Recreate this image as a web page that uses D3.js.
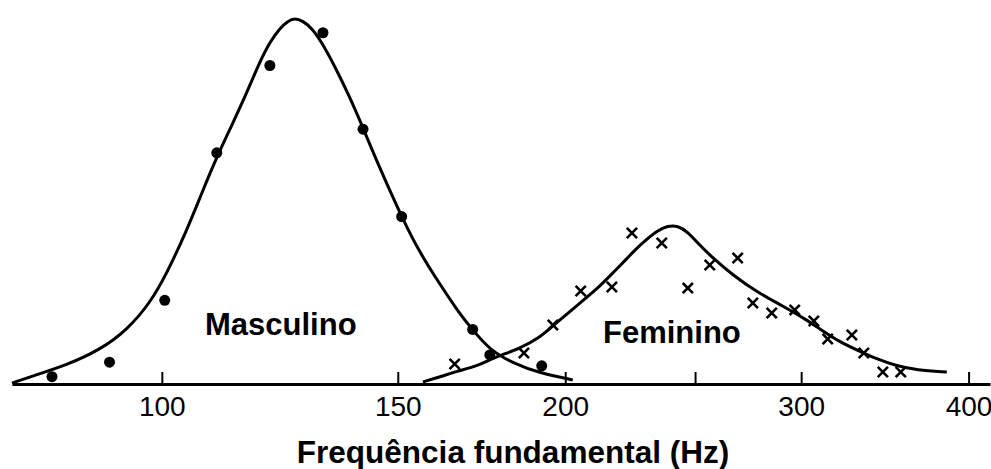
<!DOCTYPE html>
<html>
<head>
<meta charset="utf-8">
<script src="https://cdn.jsdelivr.net/npm/d3@7"></script>
<style>
  html, body { margin: 0; padding: 0; background: #fff; }
  svg { display: block; }
  text { font-family: "Liberation Sans", Arial, Helvetica, sans-serif; }
</style>
</head>
<body>
<svg id="chart" width="991" height="469"></svg>
<script>
// Fundamental frequency distributions (Hz, relative share of speakers)

// Male measurements (dots)
const maleHz  = [82.8, 91.4, 100.5, 109.9, 120.4, 131.9, 141.3, 151.0, 170.6, 175.7, 192.1];
const maleVal = [0.4, 1.2, 4.6, 12.7, 17.5, 19.3, 14.0, 9.2, 3.0, 1.6, 1.0];

// Male fitted curve
const maleCurveHz  = [77.3, 80.1, 84.9, 89.9, 94.2, 98.0, 100.9, 104.4, 107.1, 109.9, 112.8, 115.7,
                      118.3, 120.4, 122.5, 124.2, 125.7, 127.4, 129.4, 131.6, 134.6, 138.1, 141.3,
                      145.4, 151.0, 155.8, 161.2, 166.3, 170.6, 175.7, 182.8, 191.4, 202.6];
const maleCurveVal = [0.05, 0.44, 1.04, 1.87, 2.97, 4.45, 6.10, 8.46, 10.49, 12.47, 14.23, 15.99,
                      17.69, 18.79, 19.56, 19.95, 20.1, 19.95, 19.56, 18.79, 17.47, 15.77, 14.07,
                      11.87, 9.18, 7.2, 5.5, 4.0, 2.97, 1.87, 1.15, 0.60, 0.22];

// Female measurements (crosses)
const femaleHz  = [165.4, 186.3, 195.8, 205.4, 216.7, 224.3, 236.1, 246.9, 256.4, 269.0,
                   276.1, 285.2, 296.7, 306.6, 314.0, 327.3, 334.1, 345.2, 356.0];
const femaleVal = [1.10, 1.70, 3.24, 5.11, 5.33, 8.30, 7.75, 5.27, 6.54, 6.92,
                   4.45, 3.90, 4.07, 3.46, 2.47, 2.69, 1.70, 0.66, 0.66];

// Female fitted curve
const femaleCurveHz  = [156.6, 161.2, 165.4, 172.7, 176.6, 185.0, 191.4, 195.8, 199.9, 205.1, 211.2,
                        215.9, 220.8, 225.4, 230.1, 234.1, 238.6, 242.7, 246.9, 250.7, 257.7, 266.7,
                        278.0, 290.7, 302.9, 309.8, 320.6, 330.1, 341.6, 353.6, 365.9, 385.3];
const femaleCurveVal = [0.11, 0.38, 0.66, 1.04, 1.43, 1.95, 2.55, 3.19, 3.75, 4.45, 5.22,
                        5.93, 6.65, 7.36, 7.95, 8.40, 8.70, 8.70, 8.35, 7.80, 6.92, 5.99,
                        5.05, 4.29, 3.52, 3.02, 2.31, 1.87, 1.37, 0.99, 0.77, 0.66];

// Axis ticks
const tickValues = [100, 150, 200, 250, 300, 400];
const tickLabels = ["100", "150", "200", "", "300", "400"];

const axisTitle = "Frequência fundamental (Hz)";
const seriesLabels = ["Masculino", "Feminino"];

const svg = d3.select("#chart");

const x = d3.scaleLog().domain([77.3, 415]).range([12, 990]);
const y = d3.scaleLinear().domain([0, 20]).range([384, 20]);

// Axis along the baseline, ticks pointing up
const axis = d3.axisBottom(x)
  .tickValues(tickValues)
  .tickFormat((d, i) => tickLabels[i])
  .tickSizeInner(-12)
  .tickSizeOuter(0)
  .tickPadding(12);

const gAxis = svg.append("g")
  .attr("transform", `translate(0,${y(0)})`)
  .call(axis);
gAxis.select(".domain").attr("stroke", "#000").attr("stroke-width", 3);
gAxis.selectAll(".tick line").attr("stroke", "#000").attr("stroke-width", 2);
gAxis.selectAll(".tick text")
  .attr("fill", "#000")
  .style("font-size", "28px")
  .style("font-family", "'Liberation Sans', Arial, sans-serif");

const line = d3.line()
  .x(d => x(d[0]))
  .y(d => y(d[1]))
  .curve(d3.curveBasis);

svg.append("path")
  .datum(d3.zip(maleCurveHz, maleCurveVal))
  .attr("d", line)
  .attr("fill", "none")
  .attr("stroke", "#000")
  .attr("stroke-width", 3)
  .attr("stroke-linejoin", "round");

svg.append("path")
  .datum(d3.zip(femaleCurveHz, femaleCurveVal))
  .attr("d", line)
  .attr("fill", "none")
  .attr("stroke", "#000")
  .attr("stroke-width", 3)
  .attr("stroke-linejoin", "round");

// Male dots
svg.append("g").selectAll("circle")
  .data(d3.zip(maleHz, maleVal))
  .join("circle")
  .attr("cx", d => x(d[0]))
  .attr("cy", d => y(d[1]))
  .attr("r", 5.5)
  .attr("fill", "#000");

// Female crosses
const cross = d3.symbol().type(d3.symbolX).size(70);
svg.append("g").selectAll("path")
  .data(d3.zip(femaleHz, femaleVal))
  .join("path")
  .attr("transform", d => `translate(${x(d[0])},${y(d[1])})`)
  .attr("d", cross)
  .attr("fill", "none")
  .attr("stroke", "#000")
  .attr("stroke-width", 2.6);

// Series labels
svg.append("text")
  .attr("x", 205).attr("y", 335)
  .attr("font-size", 31).attr("font-weight", "bold").attr("fill", "#000")
  .text(seriesLabels[0]);
svg.append("text")
  .attr("x", 603).attr("y", 343)
  .attr("font-size", 31).attr("font-weight", "bold").attr("fill", "#000")
  .text(seriesLabels[1]);

// Axis title
svg.append("text")
  .attr("x", 513).attr("y", 463)
  .attr("text-anchor", "middle")
  .attr("font-size", 31.5).attr("font-weight", "bold").attr("fill", "#000")
  .text(axisTitle);
</script>
</body>
</html>
